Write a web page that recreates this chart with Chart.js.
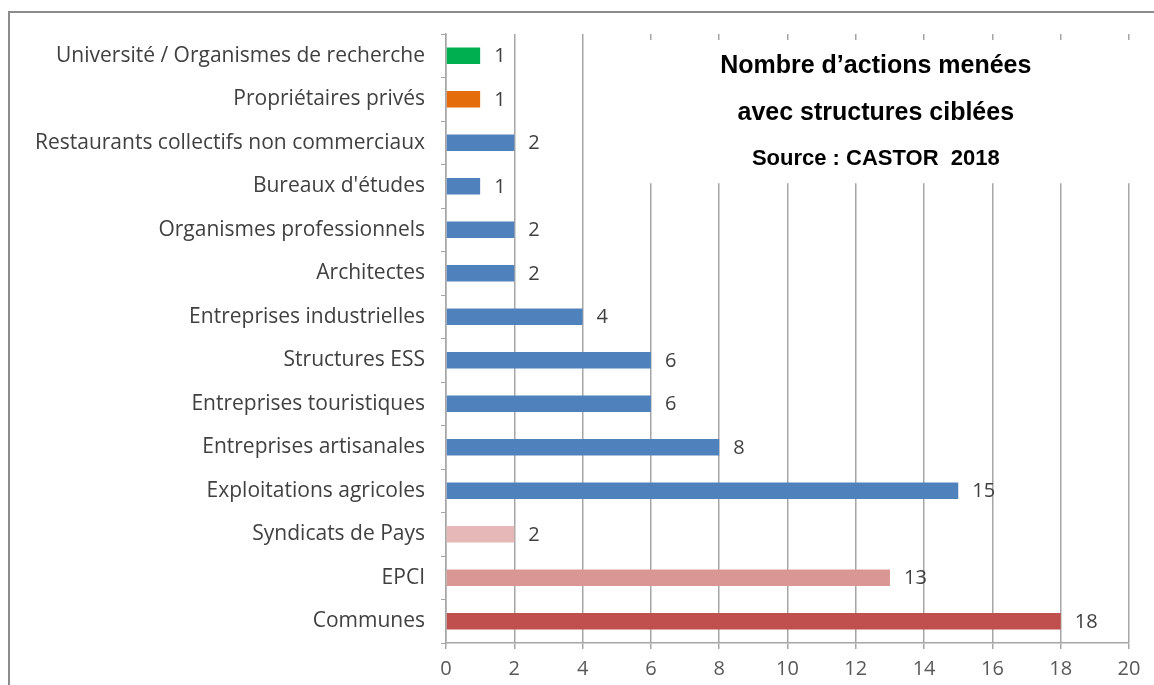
<!DOCTYPE html>
<html lang="fr">
<head>
<meta charset="utf-8">
<title>Nombre d’actions menées avec structures ciblées</title>
<script src="https://cdn.jsdelivr.net/npm/chart.js@4/dist/chart.umd.min.js"></script>
<style>
  html, body { margin: 0; padding: 0; background: #ffffff; }
  #wrap { position: relative; width: 1154px; height: 685px; }
</style>
</head>
<body>
<div id="wrap"><canvas id="chart" width="1154" height="685"></canvas></div>
<script>
// Structures ciblées (de haut en bas)
const categories = [
  "Université / Organismes de recherche",
  "Propriétaires privés",
  "Restaurants collectifs non commerciaux",
  "Bureaux d'études",
  "Organismes professionnels",
  "Architectes",
  "Entreprises industrielles",
  "Structures ESS",
  "Entreprises touristiques",
  "Entreprises artisanales",
  "Exploitations agricoles",
  "Syndicats de Pays",
  "EPCI",
  "Communes"
];
// Nombre d'actions menées par structure
const actions = [1, 1, 2, 1, 2, 2, 4, 6, 6, 8, 15, 2, 13, 18];
// Couleur de chaque barre
const barColors = [
  "#00B050", "#E46C0A",
  "#4F81BD", "#4F81BD", "#4F81BD", "#4F81BD", "#4F81BD",
  "#4F81BD", "#4F81BD", "#4F81BD", "#4F81BD",
  "#E6B9B8", "#D99694", "#C0504D"
];
const xTicks = [0, 2, 4, 6, 8, 10, 12, 14, 16, 18, 20];
const titleLines = ["Nombre d’actions menées", "avec structures ciblées", "Source : CASTOR  2018"];

const LABEL_FONT = "'Open Sans', sans-serif";
const GRID = "#a6a6a6";

// Cadre gris (bords haut et gauche)
const framePlugin = {
  id: "frame",
  beforeDraw(chart) {
    const ctx = chart.ctx;
    ctx.save();
    ctx.fillStyle = "#ffffff";
    ctx.fillRect(0, 0, chart.width, chart.height);
    ctx.strokeStyle = "#8c8c8c";
    ctx.lineWidth = 2;
    ctx.beginPath();
    ctx.moveTo(9, chart.height);
    ctx.lineTo(9, 12);
    ctx.lineTo(chart.width, 12);
    ctx.stroke();
    ctx.restore();
  }
};

// Encadré blanc du titre, posé sur la grille
const titleBoxPlugin = {
  id: "titleBox",
  beforeDatasetsDraw(chart) {
    const ctx = chart.ctx;
    const area = chart.chartArea;
    const x = chart.scales.x;
    const left = x.getPixelForValue(5.85);
    const top = area.top + 6;
    const bottom = chart.scales.y.getPixelForValue(3) - 3;
    ctx.save();
    ctx.fillStyle = "#ffffff";
    ctx.fillRect(left, top, chart.width - left, bottom - top);
    const cx = (x.getPixelForValue(7.5) + x.getPixelForValue(16.5)) / 2 + 20;
    ctx.fillStyle = "#000000";
    ctx.textAlign = "center";
    ctx.textBaseline = "alphabetic";
    ctx.font = "bold 25px 'Liberation Sans', Arial, sans-serif";
    ctx.fillText(titleLines[0], cx, top + 33);
    ctx.fillText(titleLines[1], cx, top + 80);
    ctx.font = "bold 22px 'Liberation Sans', Arial, sans-serif";
    ctx.fillText(titleLines[2], cx, top + 125);
    ctx.restore();
  }
};

// Valeurs affichées au bout des barres
const valueLabelPlugin = {
  id: "valueLabels",
  afterDatasetsDraw(chart) {
    const ctx = chart.ctx;
    const meta = chart.getDatasetMeta(0);
    ctx.save();
    ctx.fillStyle = "#404040";
    ctx.font = "20px " + LABEL_FONT;
    ctx.textAlign = "left";
    ctx.textBaseline = "middle";
    meta.data.forEach((bar, i) => {
      ctx.fillText(String(actions[i]), bar.x + 14, bar.y + 1);
    });
    ctx.restore();
  }
};

new Chart(document.getElementById("chart"), {
  type: "bar",
  data: {
    labels: categories,
    datasets: [{
      data: actions,
      backgroundColor: barColors,
      borderWidth: 0,
      categoryPercentage: 1,
      barPercentage: 0.38
    }]
  },
  options: {
    indexAxis: "y",
    responsive: false,
    animation: false,
    devicePixelRatio: 1,
    layout: { padding: { top: 34, right: 25, left: 0, bottom: 0 } },
    plugins: {
      legend: { display: false },
      title: { display: false },
      tooltip: { enabled: false }
    },
    scales: {
      x: {
        type: "linear",
        min: xTicks[0],
        max: xTicks[xTicks.length - 1],
        afterBuildTicks(scale) {
          scale.ticks = xTicks.map(v => ({ value: v }));
        },
        afterFit(scale) { scale.height = 42; },
        grid: {
          color: GRID,
          lineWidth: 1.5,
          drawTicks: true,
          tickLength: 6
        },
        border: { display: true, color: GRID, width: 1.5 },
        ticks: {
          color: "#595959",
          padding: 8,
          font: { family: LABEL_FONT, size: 20 }
        }
      },
      y: {
        type: "category",
        afterFit(scale) { scale.width = 446; },
        grid: {
          display: true,
          drawOnChartArea: false,
          drawTicks: true,
          tickLength: 5,
          color: GRID,
          offset: true
        },
        border: { display: true, color: GRID, width: 1.5 },
        ticks: {
          color: "#404040",
          padding: 16,
          autoSkip: false,
          font: { family: LABEL_FONT, size: 21 }
        }
      }
    }
  },
  plugins: [framePlugin, titleBoxPlugin, valueLabelPlugin]
});
</script>
</body>
</html>
